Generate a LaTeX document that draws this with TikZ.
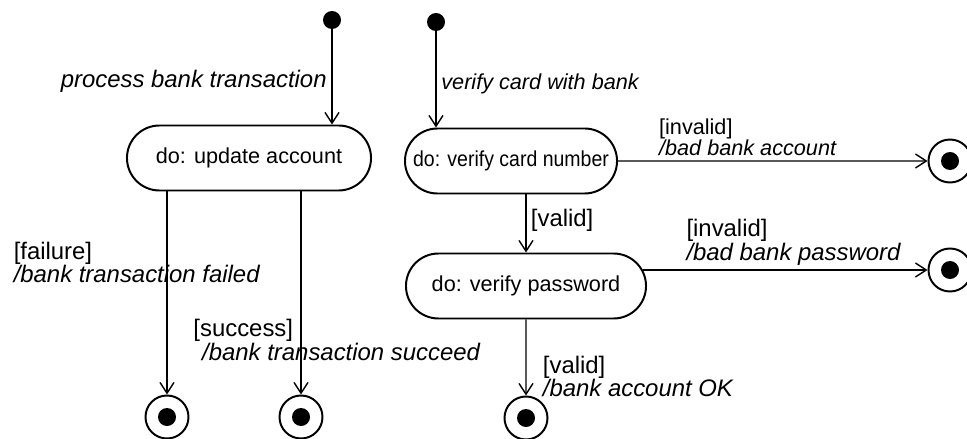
\documentclass[tikz,border=0pt]{standalone}
\usepackage{fontspec}
\setmainfont{Liberation Sans}
\usetikzlibrary{shapes.misc, arrows.meta}

\begin{document}
\begin{tikzpicture}[
			x=0.025cm, y=-0.025cm,
			every node/.style={font=\fontsize{15.4}{13}\selectfont},
			activity/.style={rounded rectangle, draw, line width=1.4pt, minimum height=1.625cm, inner sep=0pt},
			initial/.style={circle, fill, minimum size=0.45cm, inner sep=0pt},
			final/.style={circle, draw, line width=1.4pt, minimum size=1.075cm, inner sep=0pt, path picture={\fill (path picture bounding box.center) circle (0.225cm);}},
			trans/.style={-{Straight Barb[length=0.27cm, width=0.35cm]}, line width=1pt},
			guard/.style={align=left, inner sep=3pt, font=\fontsize{17}{13.5}\selectfont}
			]
			\useasboundingbox (0,0) rectangle (967,439);
			
			% Initial states
			\node[initial] (init1) at (332,20) {};
			\node[initial] (init2) at (436,22) {};
			
			% Activities
			\node[activity, minimum width=6.1cm] (update) at (249,158) {do: update account};
			\node[activity, minimum width=5.3cm, font=\fontsize{15.4}{13}\selectfont\addfontfeature{FakeStretch=0.9}] (card) at (511,161) {do: verify card number};
			\node[activity, minimum width=6.0cm] (password) at (526,286) {do: verify password};
			
			% Final states
			\node[final] (failed) at (167,417) {};
			\node[final] (succeed) at (301,417) {};
			\node[final] (ok) at (526,418) {};
			\node[final] (badaccount) at (950,161) {};
			\node[final] (badpassword) at (950,270) {};
			
			% Transitions
			\draw[trans] (init1) -- node[left, pos=.55, font=\fontsize{17}{13.5}\selectfont] {\textit{process bank transaction}} (init1 |- update.north);
			\draw[trans] (init2) -- node[right, pos=.55] {\textit{verify card with bank}} (init2 |- card.north);
			\draw[trans] (failed |- update.south) -- node[guard, pos=.35, xshift=-0.75cm] {[failure]\\\textit{/bank transaction failed}} (failed);
			\draw[trans] (succeed |- update.south) -- node[guard, pos=.73, xshift=0.9cm] {[success]\\\hspace*{0.22cm}\textit{/bank transaction succeed}} (succeed);
			\draw[trans] (card) -- node[above, guard, pos=.42, font=\fontsize{15.4}{13.5}\selectfont] {[invalid]\\\textit{/bad bank account}} (badaccount);
			\draw[trans] (password |- card.south) -- node[right, guard, pos=.45] {[valid]} (password.north);
			\draw[trans] ([shift={(-4,-16)}]password.east) -- node[above, guard, pos=.53] {[invalid]\\\textit{/bad bank password}} (badpassword);
			\draw[trans] (password) -- node[right, guard, pos=.75, xshift=0.3cm] {[valid]\\\textit{/bank account OK}} (ok);
			
		\end{tikzpicture}
\end{document}
